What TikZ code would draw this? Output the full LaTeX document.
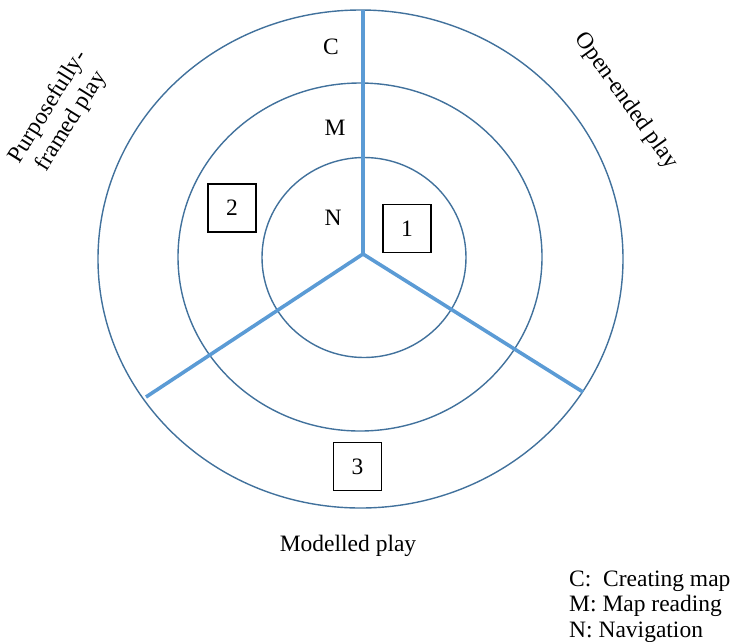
\documentclass[tikz,border=0pt]{standalone}
\usepackage{fontspec}
\setmainfont{Liberation Serif}
\definecolor{ringblue}{HTML}{41719C}
\definecolor{spokeblue}{HTML}{5B9BD5}
\begin{document}
\begin{tikzpicture}[x=1pt,y=-1pt,
  ring/.style={draw=ringblue,line width=1.4pt},
  spoke/.style={draw=spokeblue,line width=3.6pt},
  numbox/.style={draw=black,line width=1.3pt,minimum width=48pt,minimum height=48pt,inner sep=0pt,font=\fontsize{23.5}{27}\selectfont},
  lbl/.style={inner sep=0pt,font=\fontsize{23.5}{27}\selectfont}]
\useasboundingbox (0,0) rectangle (733,641);
% rings
\draw[ring] (360.5,259) ellipse [x radius=262.5, y radius=249];
\draw[ring] (360,257) ellipse [x radius=182, y radius=174];
\draw[ring] (364,257.5) ellipse [x radius=102, y radius=100];
% spokes
\coordinate (hub) at (363,254);
\coordinate (top) at (363,10);
\coordinate (left) at (146,397);
\coordinate (right) at (583,392);
\draw[spoke] (hub) -- (top);
\draw[spoke] (hub) -- (left);
\draw[spoke] (hub) -- (right);
% ring letters
\node[lbl] (c) at (331,47) {C};
\node[lbl] (m) at (335,128) {M};
\node[lbl] (n) at (333,218) {N};
% boxes
\node[numbox] (b1) at (407,228.5) {1};
\node[numbox] (b2) at (232,208) {2};
\node[numbox] (b3) at (357.5,466.5) {3};
% side labels
\node[lbl,rotate=58,align=center] (pf) at (60,114) {Purposefully-\\framed play};
\node[lbl,rotate=-54.5] (oe) at (626,101) {Open-ended play};
\node[lbl] (mp) at (348,546) {Modelled play};
% legend
\node[lbl,anchor=base west] (leg) at (569,586) {C:\ \ Creating map};
\node[lbl,anchor=base west] (leg2) at (569,611.5) {M: Map reading};
\node[lbl,anchor=base west] (leg3) at (569,637) {N: Navigation};
\end{tikzpicture}
\end{document}
